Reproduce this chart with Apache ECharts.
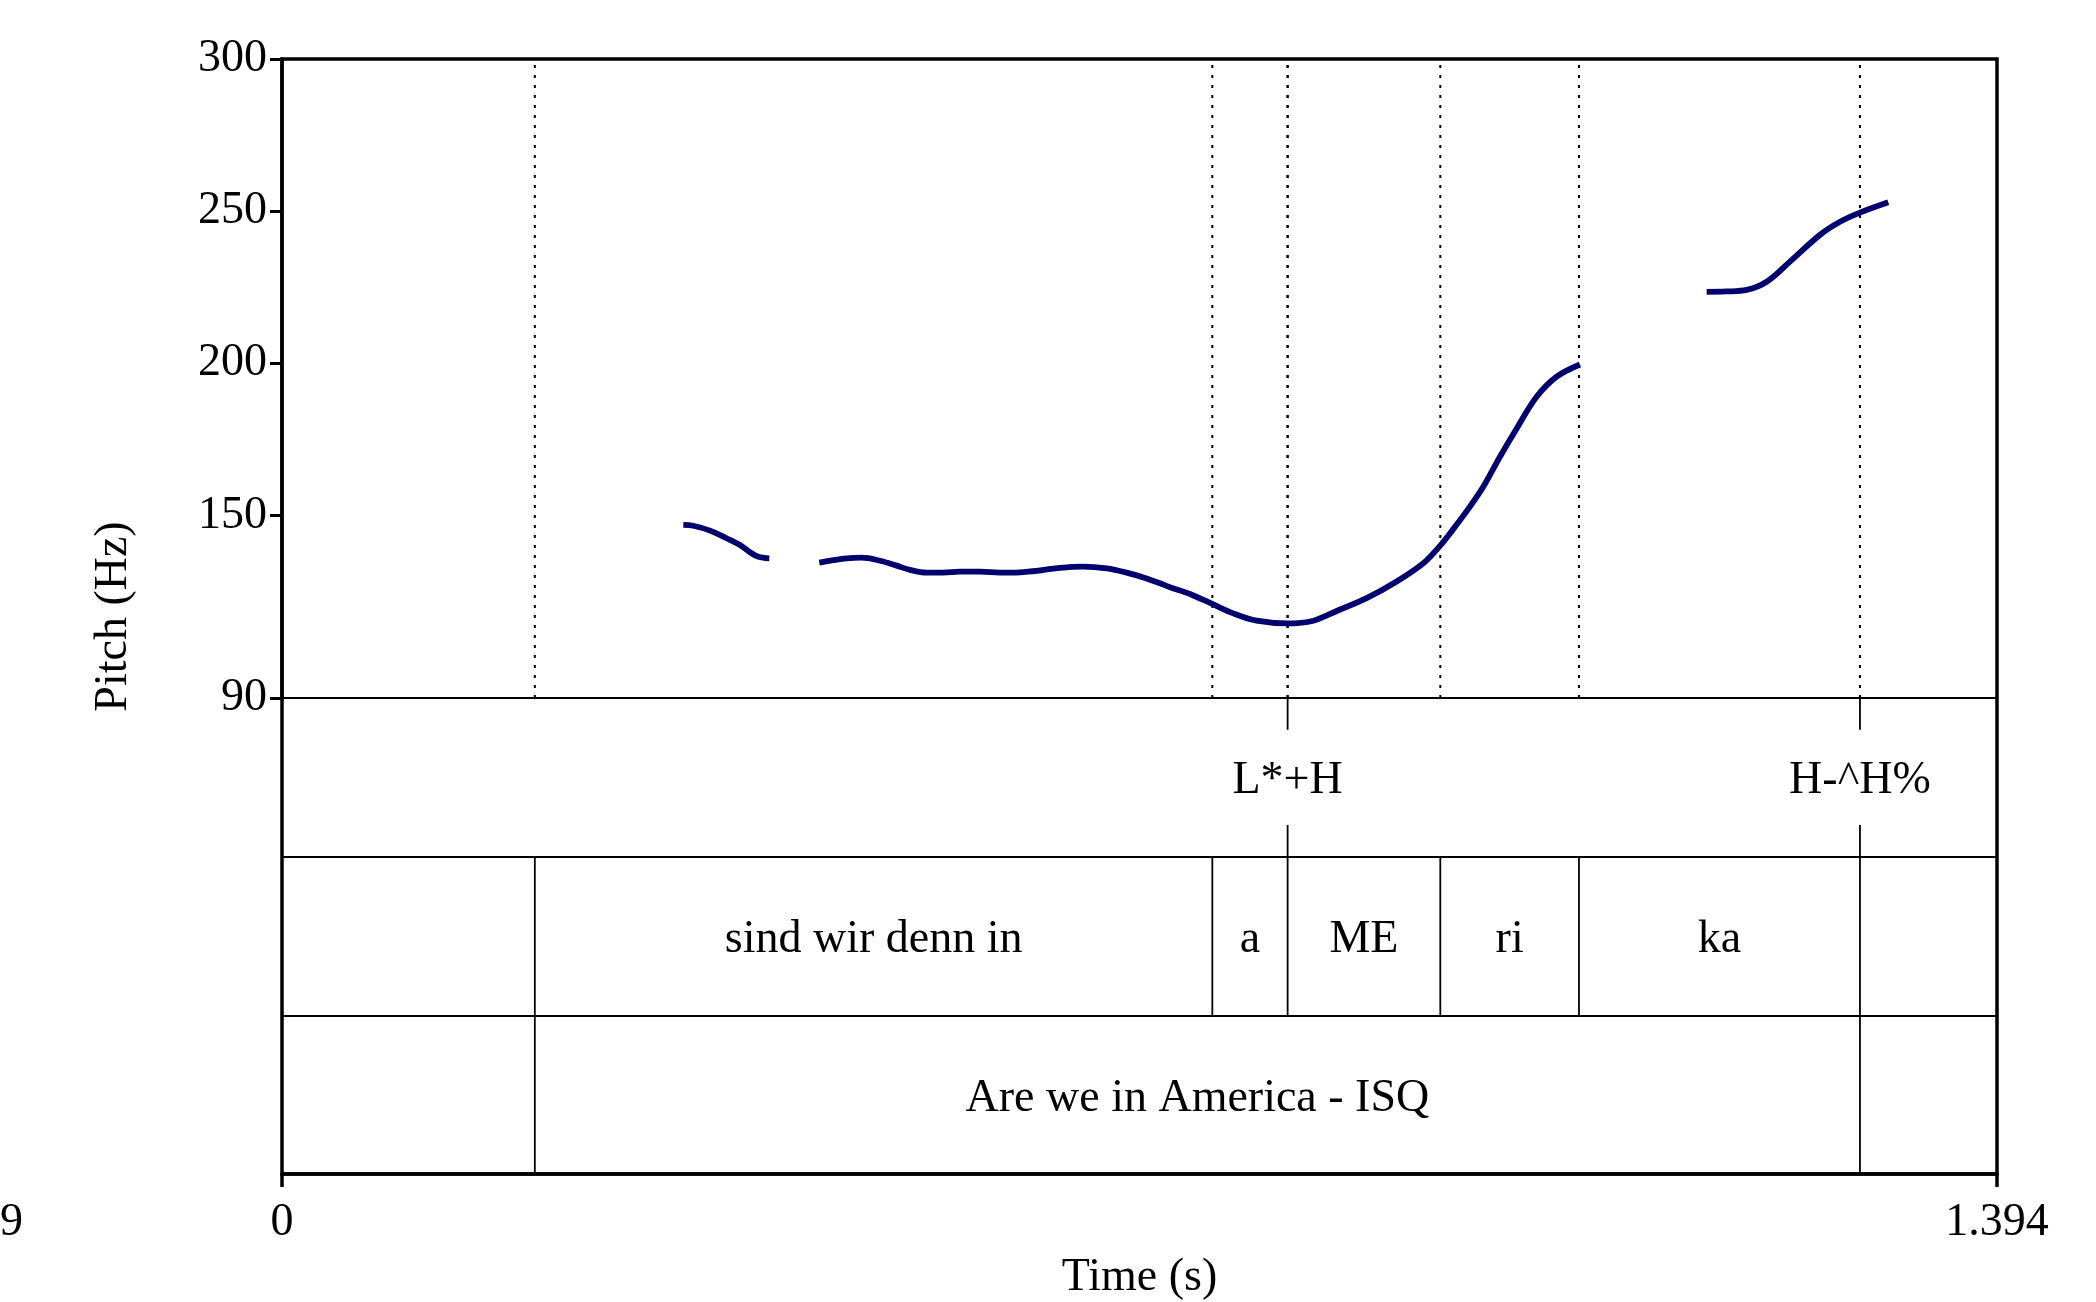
<!DOCTYPE html>
<html>
<head>
<meta charset="utf-8">
<script src="https://cdn.jsdelivr.net/npm/echarts@6/dist/echarts.min.js"></script>
<style>
html, body { margin: 0; padding: 0; background: #fff; }
#pitch { width: 2096px; height: 1302px; }
</style>
</head>
<body>
<div id="pitch"></div>
<script>
// pitch track, three voiced stretches (time in s, pitch in Hz)
var seg1Time = [0.3262, 0.3343, 0.3479, 0.3614, 0.3723, 0.3804, 0.3872, 0.3961];
var seg1Hz   = [146.9, 146.6, 145.0, 142.5, 140.3, 137.9, 136.4, 135.9];

var seg2Time = [0.4367, 0.4481, 0.4590, 0.4712, 0.4861, 0.4996, 0.5104, 0.5240, 0.5376, 0.5511,
                0.5673, 0.5836, 0.5998, 0.6161, 0.6324, 0.6513, 0.6703, 0.6866, 0.7001, 0.7136,
                0.7218, 0.7380, 0.7562, 0.7733, 0.7922, 0.8174, 0.8383, 0.8573, 0.8816, 0.9060,
                0.9277, 0.9412, 0.9520, 0.9656, 0.9764, 0.9900, 1.0036, 1.0198, 1.0361, 1.0550];
var seg2Hz   = [134.5, 135.3, 135.9, 136.1, 135.1, 133.5, 132.1, 131.2, 131.2, 131.5,
                131.5, 131.2, 131.3, 131.9, 132.8, 133.2, 132.6, 131.2, 129.6, 127.7,
                126.4, 124.2, 120.9, 117.8, 115.4, 114.5, 115.4, 118.6, 122.8, 128.3,
                134.3, 140.0, 145.5, 152.9, 159.4, 169.3, 178.6, 189.0, 195.6, 199.6];

var seg3Time = [1.1580, 1.1742, 1.1905, 1.2068, 1.2257, 1.2501, 1.2664, 1.2826, 1.3056];
var seg3Hz   = [223.5, 223.6, 224.1, 226.8, 233.4, 242.2, 246.5, 249.5, 252.9];

// TextGrid
var tMin = 0, tMax = 1.394;
var toneTimes  = [0.8174, 1.2826];
var toneLabels = ['L*+H', 'H-^H%'];
var syllBounds = [0.2055, 0.7562, 0.8174, 0.9415, 1.0542, 1.2826];
var syllLabels = ['', 'sind wir denn in', 'a', 'ME', 'ri', 'ka', ''];
var sentBounds = [0.2055, 1.2826];
var sentLabels = ['', 'Are we in America - ISQ', ''];

var pitchTicks = [90, 150, 200, 250, 300];
var timeTicks  = [0, 1.394];

var FONT = '"Liberation Serif", "Times New Roman", serif';
var TRACK = '#00006e';

function pairs(t, h) {
    return t.map(function (x, i) { return [x, h[i]]; });
}

// centre of each interval -> label item
function intervalLabels(bounds, labels, row) {
    var edges = [tMin].concat(bounds).concat([tMax]);
    var out = [];
    for (let i = 0; i < labels.length; ++i) {
        if (!labels[i]) continue;
        out.push({ value: [(edges[i] + edges[i + 1]) / 2, row], name: labels[i] });
    }
    return out;
}

function vline(params, api) {
    var p0 = api.coord([api.value(0), api.value(1)]);
    var p1 = api.coord([api.value(0), api.value(2)]);
    return {
        type: 'line',
        shape: { x1: p0[0], y1: p0[1], x2: p1[0], y2: p1[1] },
        style: { stroke: '#000', lineWidth: api.value(3), lineDash: api.value(4) ? [3, 7] : null }
    };
}

var dotted = [];
syllBounds.forEach(function (t) { dotted.push([t, 90, 300, 2, 1]); });
toneTimes.forEach(function (t) { dotted.push([t, 90, 300, 2, 1]); });

var tierLines = [];
syllBounds.forEach(function (t) { tierLines.push([t, 1, 2, 1.8, 0]); });
sentBounds.forEach(function (t) { tierLines.push([t, 0, 1, 1.8, 0]); });
toneTimes.forEach(function (t) {
    tierLines.push([t, 2.8, 3, 1.8, 0]);
    tierLines.push([t, 2, 2.2, 1.8, 0]);
});

var textLabels = intervalLabels(syllBounds, syllLabels, 1.5)
    .concat(intervalLabels(sentBounds, sentLabels, 0.5))
    .concat(toneTimes.map(function (t, i) { return { value: [t, 2.5], name: toneLabels[i] }; }));

function trackSeries(t, h) {
    return {
        type: 'line',
        xAxisIndex: 0,
        yAxisIndex: 0,
        data: pairs(t, h),
        showSymbol: false,
        smooth: 0.35,
        lineStyle: { color: TRACK, width: 5.8, cap: 'butt' },
        z: 5
    };
}

echarts.init(document.getElementById('pitch')).setOption({
    animation: false,
    backgroundColor: '#fff',
    textStyle: { fontFamily: FONT },
    grid: [
        { left: 282, top: 59, width: 1715, height: 639 },
        { left: 282, top: 698, width: 1715, height: 476 },
        { left: 282, top: 59, width: 1715, height: 1115, show: true, borderColor: '#000', borderWidth: 3.5, backgroundColor: 'transparent', z: 10 }
    ],
    xAxis: [{
        gridIndex: 0, type: 'value', min: tMin, max: tMax,
        axisLine: { show: true, lineStyle: { color: '#000', width: 2 } },
        axisTick: { show: false }, axisLabel: { show: false }, splitLine: { show: false }
    }, {
        gridIndex: 1, type: 'value', min: tMin, max: tMax,
        axisLine: { show: true, lineStyle: { color: '#000', width: 3.5 } },
        axisTick: { show: true, customValues: timeTicks, length: 13, lineStyle: { color: '#000', width: 3.5 } },
        axisLabel: {
            show: true, customValues: timeTicks, margin: 26,
            color: '#000', fontSize: 46, fontFamily: FONT,
            formatter: function (v) { return v === 0 ? '0' : String(v); }
        },
        splitLine: { show: false },
        name: 'Time (s)', nameLocation: 'middle', nameGap: 81,
        nameTextStyle: { color: '#000', fontSize: 46, fontFamily: FONT }
    }, {
        gridIndex: 2, type: 'value', min: 0, max: 1, show: false
    }],
    yAxis: [{
        gridIndex: 0, type: 'value', min: 90, max: 300,
        axisLine: { show: true, lineStyle: { color: '#000', width: 3.5 } },
        axisTick: { show: true, customValues: pitchTicks, length: 12, lineStyle: { color: '#000', width: 3 } },
        axisLabel: { show: true, customValues: pitchTicks, margin: 15, color: '#000', fontSize: 46, fontFamily: FONT },
        splitLine: { show: false }
    }, {
        gridIndex: 1, type: 'value', min: 0, max: 3, interval: 1,
        axisLine: { show: false }, axisTick: { show: false }, axisLabel: { show: false },
        splitLine: { show: true, lineStyle: { color: '#000', width: 2.2 } }
    }, {
        gridIndex: 2, type: 'value', min: 0, max: 1,
        axisLine: { show: false }, axisTick: { show: false }, axisLabel: { show: false }, splitLine: { show: false },
        name: 'Pitch (Hz)', nameLocation: 'middle', nameGap: 145,
        nameTextStyle: { color: '#000', fontSize: 46, fontFamily: FONT }
    }],
    graphic: [{
        type: 'text', left: 0, top: 1200,
        style: { text: '9', fill: '#000', font: '46px ' + FONT }
    }],
    series: [
        trackSeries(seg1Time, seg1Hz),
        trackSeries(seg2Time, seg2Hz),
        trackSeries(seg3Time, seg3Hz),
        {
            type: 'custom', xAxisIndex: 0, yAxisIndex: 0,
            renderItem: vline, data: dotted, encode: { x: 0, y: [1, 2] }, z: 3
        },
        {
            type: 'custom', xAxisIndex: 1, yAxisIndex: 1,
            renderItem: vline, data: tierLines, encode: { x: 0, y: [1, 2] }, z: 3
        },
        {
            type: 'custom', xAxisIndex: 1, yAxisIndex: 1,
            data: textLabels,
            encode: { x: 0, y: 1 },
            renderItem: function (params, api) {
                var p = api.coord([api.value(0), api.value(1)]);
                return {
                    type: 'text',
                    x: p[0], y: p[1] + 4,
                    style: {
                        text: textLabels[params.dataIndex].name,
                        fill: '#000', font: '46px ' + FONT,
                        align: 'center', verticalAlign: 'middle',
                        textAlign: 'center', textVerticalAlign: 'middle'
                    }
                };
            },
            z: 4
        }
    ]
});
</script>
</body>
</html>
